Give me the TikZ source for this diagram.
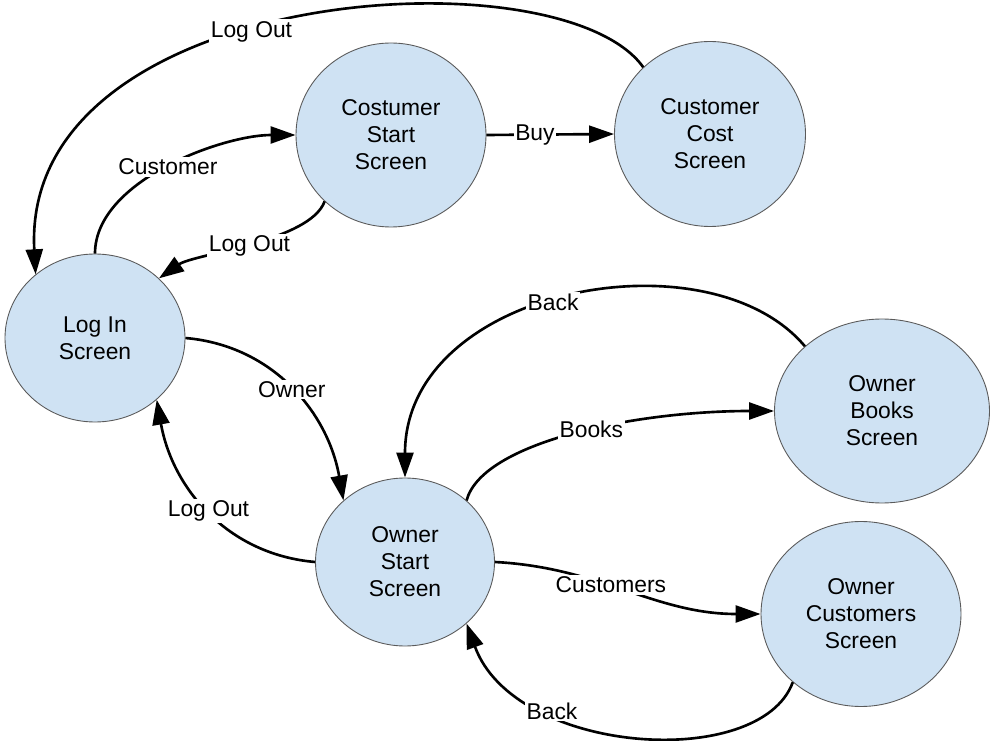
\documentclass[tikz,border=0pt]{standalone}
\usepackage{fontspec}
\setmainfont{Liberation Sans}
\usepackage{tikz}
\usetikzlibrary{shapes.geometric}
\usetikzlibrary{arrows.meta}
\definecolor{screenfill}{HTML}{CFE2F3}
\definecolor{screenline}{HTML}{5A5A5A}
\begin{document}
\begin{tikzpicture}[
  screen/.style={ellipse, draw=screenline, line width=0.5pt, fill=screenfill, align=center, inner sep=0pt, font=\fontsize{13}{15.4}\selectfont},
  flow/.style={->, line width=1.5pt, >={Triangle[length=0.5cm, width=0.34cm]}},
  lbl/.style={fill=white, inner sep=1pt, font=\fontsize{13}{15.4}\selectfont}]
\useasboundingbox (0,0) rectangle (19.8,14.8);
\node[screen, minimum width=3.6cm, minimum height=3.36cm] (login) at (1.90,8.04) {Log In\\Screen};
\node[screen, minimum width=3.8cm, minimum height=3.68cm] (cstart) at (7.82,12.10) {Costumer\\Start\\Screen};
\node[screen, minimum width=3.82cm, minimum height=3.7cm] (ccost) at (14.20,12.12) {Customer\\Cost\\Screen};
\node[screen, minimum width=3.58cm, minimum height=3.36cm] (ostart) at (8.10,3.56) {Owner\\Start\\Screen};
\node[screen, minimum width=4.3cm, minimum height=3.68cm] (obooks) at (17.64,6.58) {Owner\\Books\\Screen};
\node[screen, minimum width=4.0cm, minimum height=3.7cm] (ocust) at (17.22,2.52) {Owner\\Customers\\Screen};
\draw[flow] (ccost.135) .. controls (11.2,15.8) and (0.4,15.1) .. (login.133) node[lbl, pos=0.56]{Log Out};
\draw[flow] (login.90) to[out=90, in=180, looseness=0.8] node[lbl]{Customer} (cstart.180);
\draw[flow] (cstart.225) to[out=250, in=35, looseness=0.6] node[lbl]{Log Out} (login.43);
\draw[flow] (cstart.east) -- node[lbl, pos=0.38]{Buy} (ccost.west);
\draw[flow] (login.east) to[out=-5, in=100] node[lbl]{Owner} (ostart.135);
\draw[flow] (ostart.west) to[out=175, in=-80] node[lbl]{Log Out} (login.-45);
\draw[flow] (obooks.140) .. controls +(130:3) and +(90:3.8) .. (ostart.north) node[lbl, pos=0.53]{Back};
\draw[flow] (ostart.45) .. controls +(75:1.2) and +(180:2.8) .. (obooks.west) node[lbl, pos=0.55]{Books};
\draw[flow] (ostart.east) to[out=-3, in=180] node[lbl, pos=0.43]{Customers} (ocust.west);
\draw[flow] (ocust.225) .. controls +(250:1.9) and +(-70:2.8) .. (ostart.-45) node[lbl, pos=0.7]{Back};
\end{tikzpicture}
\end{document}
